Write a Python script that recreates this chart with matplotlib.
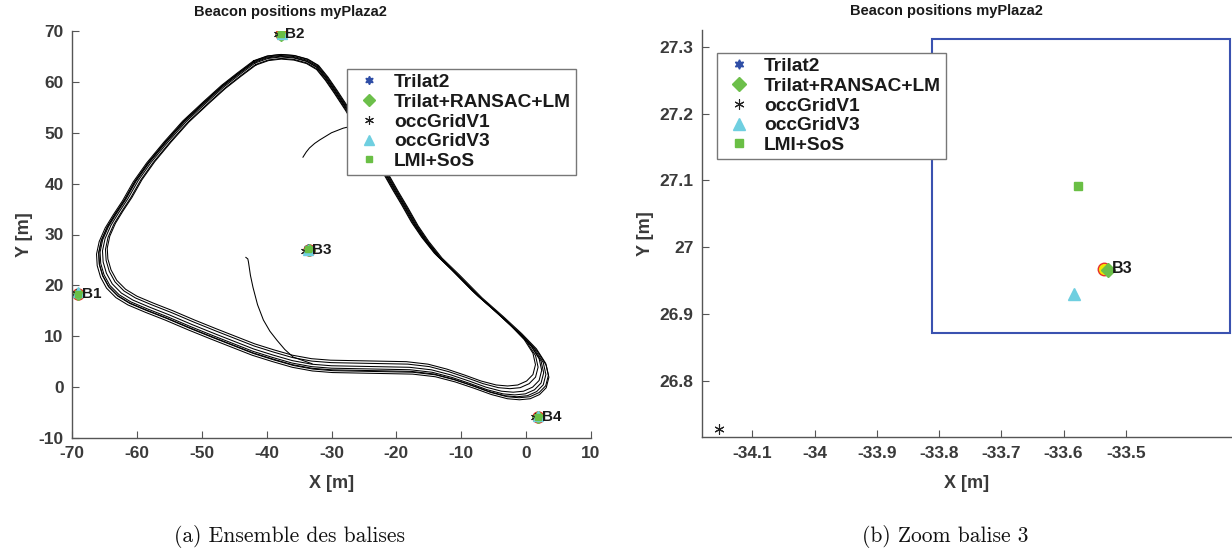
import matplotlib.pyplot as plt
from matplotlib.patches import Rectangle
from matplotlib.transforms import Affine2D

plt.rcParams["font.family"] = ["Liberation Sans", "DejaVu Sans"]
plt.rcParams["font.weight"] = "bold"
plt.rcParams["axes.unicode_minus"] = False

# beacon names and reference positions (yellow/red circles)
beacons = ["B1", "B2", "B3", "B4"]
true_x = [-69.03, -37.80, -33.535, 1.85]
true_y = [18.40, 69.35, 26.968, -5.86]

# estimated positions per method
trilat2_x = [-69.0, -37.8, -33.62, 1.85]
trilat2_y = [18.4, 69.3, 27.40, -5.85]
ransac_x = [-69.0, -37.8, -33.528, 1.85]
ransac_y = [18.4, 69.3, 26.966, -5.85]
occ1_x = [-69.4, -38.2, -34.153, 1.4]
occ1_y = [18.5, 69.4, 26.728, -5.8]
occ3_x = [-69.1, -37.7, -33.584, 1.9]
occ3_y = [18.7, 69.5, 26.930, -5.6]
lmi_x = [-69.0, -37.8, -33.577, 1.85]
lmi_y = [18.4, 69.4, 27.091, -5.9]

# one lap of the track (waypoints)
lap_x = [-41.8, -39.8, -37.8, -35.8, -33.8, -32.2, -30.8, -29.4, -27.6, -25.8,
         -23.8, -21.8, -20.2, -18.8, -17.2, -15.6, -13.6, -11.0, -7.6, -4.4,
         -1.6, 0.6, 2.0, 2.4, 2.0, 1.0, -0.4, -2.0, -3.8, -6.2,
         -8.8, -11.6, -14.6, -18.0, -22.0, -26.0, -30.0, -33.0, -36.0, -39.0,
         -42.0, -45.0, -48.0, -51.5, -55.0, -58.0, -60.6, -62.4, -63.8, -64.7,
         -65.2, -65.3, -64.9, -64.0, -62.8, -61.4, -59.8, -57.8, -55.2, -52.4,
         -49.2, -46.6, -44.2, -41.8]
lap_y = [63.7, 64.6, 64.9, 64.7, 64.0, 62.8, 60.6, 58.0, 54.5, 50.6,
         46.4, 42.2, 38.6, 35.6, 32.0, 29.0, 25.8, 22.6, 18.2, 14.6,
         11.3, 8.4, 5.6, 3.3, 1.3, 0.0, -0.8, -1.0, -0.8, 0.0,
         1.2, 2.4, 3.4, 3.9, 4.0, 4.1, 4.2, 4.5, 5.2, 6.3,
         7.5, 9.0, 10.5, 12.3, 14.2, 15.7, 17.1, 18.5, 20.3, 22.4,
         24.6, 26.8, 29.2, 31.8, 34.3, 37.0, 40.6, 44.2, 48.2, 52.2,
         56.0, 59.0, 61.4, 63.7]
# per-lap scale/shift about the loop centre
lap_scale = [1.000, 1.018, 0.985, 1.030, 0.975, 1.010, 1.024]
lap_dx = [0.0, 0.1, -0.1, 0.2, -0.2, 0.0, 0.3]
lap_dy = [0.0, -0.3, 0.2, -0.5, 0.4, -0.2, -0.3]

# two lead-in segments
seg1_x = [-43.2, -42.9, -42.8, -42.5, -42.1, -41.4, -40.5, -39.5, -38.4, -37.2, -35.9, -33.0]
seg1_y = [25.5, 25.2, 24.6, 22.0, 19.6, 16.2, 13.2, 11.0, 9.2, 7.4, 5.9, 4.6]
seg2_x = [-34.4, -33.9, -33.4, -32.6, -31.8, -30.0, -28.2, -26.5]
seg2_y = [45.2, 46.2, 47.0, 47.9, 48.6, 50.0, 50.9, 51.4]

# zoomed rectangle (right panel)
rect_x0, rect_x1 = -33.811, -33.333
rect_y0, rect_y1 = 26.872, 27.311

labels = ["Trilat2", "Trilat+RANSAC+LM", "occGridV1", "occGridV3", "LMI+SoS"]

AX_COL = "#555555"
TXT_COL = "#3a3a3a"

fig = plt.figure(figsize=(12.32, 5.6), dpi=100)
ax1 = fig.add_axes([72 / 1232, 1 - 438 / 560, 519 / 1232, 407 / 560])
ax2 = fig.add_axes([702 / 1232, 1 - 437.3 / 560, 529 / 1232, 407.3 / 560])


def style(ax, title_x):
    for s in ["top", "right"]:
        ax.spines[s].set_visible(False)
    for s in ["left", "bottom"]:
        ax.spines[s].set_color(AX_COL)
        ax.spines[s].set_linewidth(1.0)
    ax.tick_params(colors=AX_COL, labelcolor=TXT_COL, direction="in", length=5,
                   labelsize=12.5, pad=6)
    ax.set_xlabel("X [m]", fontsize=13, fontweight="bold", color=TXT_COL, labelpad=10)
    ax.set_ylabel("Y [m]", fontsize=13, fontweight="bold", color=TXT_COL, labelpad=4)
    ax.set_title("Beacon positions myPlaza2", fontsize=10.5, fontweight="bold",
                 color="#1a1a1a", pad=11, x=title_x)


def draw_markers(ax, ms):
    ax.plot(true_x, true_y, "o", ms=ms, mfc="#f2e600", mec="#e8302a", mew=1.0, ls="none")
    ax.plot(trilat2_x, trilat2_y, marker=(6, 1, 0), ms=ms * 0.75, color="#2f4ea6",
            ls="none", label=labels[0])
    ax.plot(ransac_x, ransac_y, marker="D", ms=ms * 0.75, color="#6cbf4a", ls="none",
            label=labels[1])
    ax.plot(occ1_x, occ1_y, marker=(6, 2, 0), ms=ms * 0.8, color="#222222", mew=0.8,
            ls="none", label=labels[2])
    ax.plot(occ3_x, occ3_y, marker="^", ms=ms * 0.9, color="#6fcfe0", ls="none",
            label=labels[3])
    ax.plot(lmi_x, lmi_y, marker="s", ms=ms * 0.6, color="#6abf45", ls="none",
            label=labels[4])


def add_legend(ax, anchor):
    leg = ax.legend(loc="upper left", bbox_to_anchor=anchor,
                    prop=dict(family="Liberation Sans", weight="bold", size=13.8),
                    frameon=True, fancybox=False, framealpha=1, edgecolor="#777777",
                    borderpad=0.25, labelspacing=0.12, handletextpad=0.4,
                    borderaxespad=0, handlelength=1.8)
    leg.get_frame().set_linewidth(1.0)
    for t in leg.get_texts():
        t.set_color("#1a1a1a")


# ---- left panel ----
centre = (-28.0, 32.0)
for s, dx, dy in zip(lap_scale, lap_dx, lap_dy):
    tr = (Affine2D().translate(-centre[0], -centre[1]).scale(s)
          .translate(centre[0] + dx, centre[1] + dy) + ax1.transData)
    ax1.plot(lap_x, lap_y, color="black", lw=0.75, transform=tr)
ax1.plot(seg1_x, seg1_y, color="black", lw=0.75)
ax1.plot(seg2_x, seg2_y, color="black", lw=0.75)
draw_markers(ax1, 8)
for name, x, y in zip(beacons, true_x, true_y):
    ax1.text(x + 0.6, y, name, fontsize=11, va="center", ha="left", color="#1a1a1a")
ax1.set_xlim(-70, 10)
ax1.set_ylim(-10, 70)
ax1.set_xticks(range(-70, 11, 10))
ax1.set_yticks(range(-10, 71, 10))
style(ax1, (290 - 72) / 519)
add_legend(ax1, (275 / 519, 1 - 38 / 407))

# ---- right panel ----
ax2.add_patch(Rectangle((rect_x0, rect_y0), rect_x1 - rect_x0, rect_y1 - rect_y0,
                        fill=False, ec="#3a52b0", lw=1.5, clip_on=False))
draw_markers(ax2, 9)
ax2.text(true_x[2] + 0.012, true_y[2], beacons[2], fontsize=11.5, va="center",
         ha="left", color="#1a1a1a")
ax2.set_xlim(-34.181, -33.331)
ax2.set_ylim(26.716, 27.325)
ax2.set_xticks([-34.1, -34.0, -33.9, -33.8, -33.7, -33.6, -33.5])
ax2.set_xticklabels(["-34.1", "-34", "-33.9", "-33.8", "-33.7", "-33.6", "-33.5"])
ax2.set_yticks([26.8, 26.9, 27.0, 27.1, 27.2, 27.3])
ax2.set_yticklabels(["26.8", "26.9", "27", "27.1", "27.2", "27.3"])
style(ax2, (946 - 702) / 529)
add_legend(ax2, (15 / 529, 1 - 23 / 407.3))

# captions
fig.text(290 / 1232, 1 - 536 / 560, "(a) Ensemble des balises", ha="center", va="center",
         fontsize=15.5, family="cmr10", weight="normal", color="#111111")
fig.text(945 / 1232, 1 - 536 / 560, "(b) Zoom balise 3", ha="center", va="center",
         fontsize=15.5, family="cmr10", weight="normal", color="#111111")

fig.savefig("out.png", dpi=100)
